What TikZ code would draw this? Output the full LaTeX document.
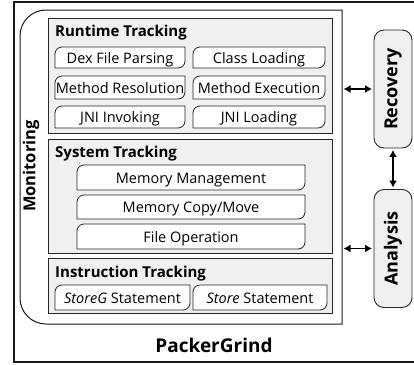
\documentclass[tikz,border=0pt]{standalone}
\usepackage{fontspec}
\setmainfont{Open Sans}
\usetikzlibrary{arrows.meta}

\tikzset{
  frameline/.style={draw=black!90, line width=1.2pt},
  panel/.style={draw=black!85, line width=0.9pt, fill=black!6},
  tracktitle/.style={font=\fontsize{15}{17}\selectfont\bfseries, anchor=base west, inner sep=0pt},
  boxline/.style={draw=black!85, line width=0.8pt, fill=white},
  boxtext/.style={font=\fontsize{14.5}{16}\selectfont, anchor=base, inner sep=0pt},
  sidebox/.style={draw=black!85, line width=0.9pt, fill=black!6, rounded corners=10pt,
    minimum width=118pt, minimum height=38pt, rotate=90,
    font=\fontsize{18}{20}\selectfont\bfseries},
  sidetext/.style={font=\fontsize{16.5}{18}\selectfont\bfseries, rotate=90, inner sep=0pt},
  biarrow/.style={{Latex[length=7pt,width=8pt]}-{Latex[length=7pt,width=8pt]}, line width=1.8pt,
    shorten <=1.5pt, shorten >=1.5pt},
}

% box with rounded top-left and bottom-right corners: name, x1, y1, x2, y2, text
\newcommand{\trackbox}[6]{%
  \draw[boxline] (#2,#5) [rounded corners=7pt] -- (#2,#3) [sharp corners] -- (#4,#3)
    [rounded corners=7pt] -- (#4,#5) [sharp corners] -- cycle;
  \node[boxtext] (#1) at ({(#2+#4)/2},{(#3+#5)/2+5.5}) {#6};
}

\begin{document}
\begin{tikzpicture}[x=1pt, y=-1pt]
  \useasboundingbox (0,0) rectangle (414,364);

  % PackerGrind frame
  \draw[frameline] (416,2) -- (14,2) -- (14,362) -- (416,362);
  \node[font=\fontsize{19}{21}\selectfont\bfseries, anchor=base, inner sep=0pt] (packergrind) at (214,352) {PackerGrind};

  % Monitoring
  \draw[line width=1pt, draw=black!90] (342,324) -- (342,10) [rounded corners=26pt] -- (20,10)
    -- (20,324) [sharp corners] -- cycle;
  \coordinate (mon) at (342,10);
  \node[sidetext] (monitoring) at (31,166) {Monitoring};

  % Runtime Tracking
  \draw[panel] (48,18) rectangle (332,133);
  \node[tracktitle] (runtime) at (55,36) {Runtime Tracking};
  \trackbox{dex}{55}{47}{185}{68}{Dex File Parsing}
  \trackbox{classload}{193}{47}{325}{68}{Class Loading}
  \trackbox{methres}{55}{76}{185}{99}{Method Resolution}
  \trackbox{methexec}{193}{76}{325}{99}{Method Execution}
  \trackbox{jniinv}{55}{106}{185}{128}{JNI Invoking}
  \trackbox{jniload}{193}{106}{325}{128}{JNI Loading}

  % System Tracking
  \draw[panel] (48,139) rectangle (332,253);
  \node[tracktitle] (system) at (55,157) {System Tracking};
  \trackbox{memmgmt}{77}{165}{305}{190}{Memory Management}
  \trackbox{memcopy}{77}{195}{305}{219}{Memory Copy/Move}
  \trackbox{fileop}{77}{224}{305}{249}{File Operation}

  % Instruction Tracking
  \draw[panel] (48,258) rectangle (332,313);
  \node[tracktitle] (instruction) at (55,277) {Instruction Tracking};
  \trackbox{storeg}{55}{285}{190}{310}{\textit{StoreG} Statement}
  \trackbox{store}{193}{285}{327}{310}{\textit{Store} Statement}

  % Recovery and Analysis
  \node[sidebox] (recovery) at (393,89) {Recovery};
  \node[sidebox] (analysis) at (393,248.5) {Analysis};
  \draw[biarrow] (recovery.north -| mon) -- (recovery.north);
  \draw[biarrow] (analysis.north -| mon) -- (analysis.north);
  \draw[biarrow] (recovery.west) -- (analysis.east);
\end{tikzpicture}
\end{document}
